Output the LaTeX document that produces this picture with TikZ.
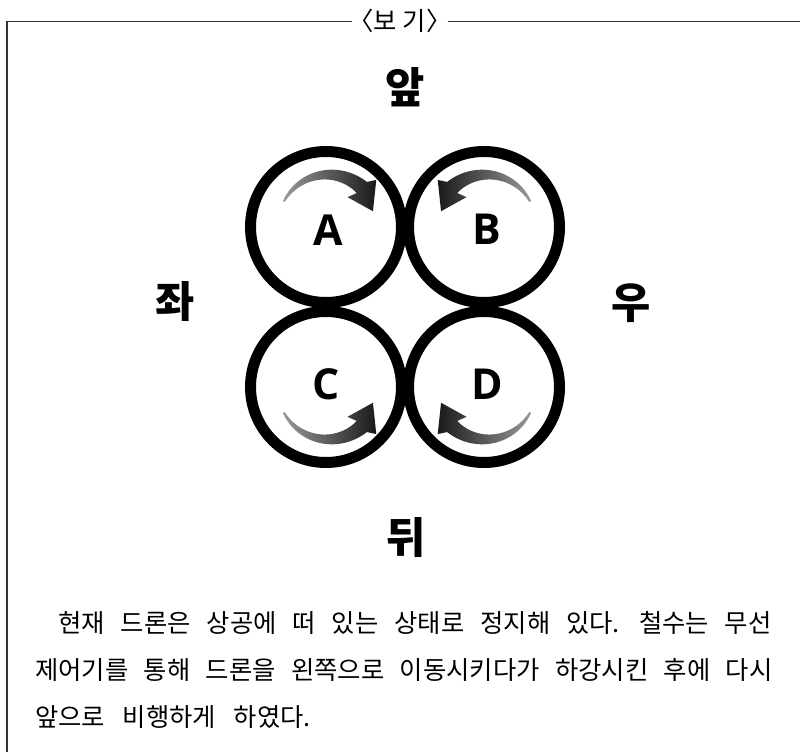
\documentclass[tikz,border=0pt]{standalone}
\usepackage{fontspec}
\newfontfamily\kr{Noto Sans CJK KR}
\newfontfamily\lat{Open Sans}
\newcommand{\rotarrow}[5]{%
  \begin{scope}[shift={(#1,#2)}]
  \shade[#5] plot[domain=208:312, samples=40] ({#3+#4*\x}:{51+7*(\x-208)/104})
     -- ({#3+#4*317}:66) -- ({#3+#4*343}:47) -- ({#3+#4*305}:34) -- ({#3+#4*312}:43)
     -- plot[domain=312:208, samples=40] ({#3+#4*\x}:{49-6*(\x-208)/104}) -- cycle;
  \end{scope}}
\newcommand{\bodyfont}{\kr\fontsize{19}{19}\selectfont\spaceskip=0.7em plus 1em minus 0.2em\relax}
\begin{document}
\begin{tikzpicture}[x=0.75pt,y=-0.75pt,
  frame/.style={draw=black!80, line width=1.1pt},
  ring/.style={circle, draw=black, line width=8.25pt, minimum size=113.25pt, inner sep=0pt},
  letter/.style={font=\lat\bfseries\fontsize{32}{32}\selectfont, inner sep=0pt},
  dirlabel/.style={font=\kr\bfseries\fontsize{32}{32}\selectfont, inner sep=0pt},
  body/.style={font=\bodyfont, inner sep=0pt, anchor=base west},
  lr/.style={left color=black!90, right color=gray!80},
  rl/.style={left color=gray!80, right color=black!90}]
\useasboundingbox (0,0) rectangle (800,752);
\fill[white] (0,0) rectangle (800,752);
% frame with title
\node[font=\kr\fontsize{19}{19}\selectfont, inner xsep=-3pt, inner ysep=0pt] (title) at (400,21) {〈보 기〉};
\coordinate (tl) at (7,21.5);
\coordinate (tr) at (800,21.5);
\coordinate (bl) at (7,752);
\draw[frame] (bl) -- (tl) -- (title.west |- tl);
\draw[frame] (title.east |- tr) -- (tr);
% rotors
\node[ring] (cA) at (326,227) {};
\node[ring] (cB) at (484,227) {};
\node[ring] (cC) at (326,387) {};
\node[ring] (cD) at (484,387) {};
\node[letter] (lA) at (328,230) {A};
\node[letter] (lB) at (487,229) {B};
\node[letter] (lC) at (326,384) {C};
\node[letter] (lD) at (487,384) {D};
% rotation arrows
\rotarrow{328}{225}{0}{1}{rl}
\rotarrow{486}{225}{180}{-1}{lr}
\rotarrow{328}{389}{360}{-1}{rl}
\rotarrow{486}{389}{-180}{1}{lr}
% directions
\node[dirlabel] (front) at (405,87) {앞};
\node[dirlabel] (left) at (175,302) {좌};
\node[dirlabel] (right) at (631,303) {우};
\node[dirlabel] (back) at (406,537) {뒤};
% text
\node[body] (t1) at (58,632) {\makebox[535pt][s]{현재 드론은 상공에 떠 있는 상태로 정지해 있다. 철수는 무선}};
\node[body] (t2) at (35,679) {\makebox[553pt][s]{제어기를 통해 드론을 왼쪽으로 이동시키다가 하강시킨 후에 다시}};
\node[body] (t3) at (35,726) {앞으로 비행하게 하였다.};
\end{tikzpicture}
\end{document}
